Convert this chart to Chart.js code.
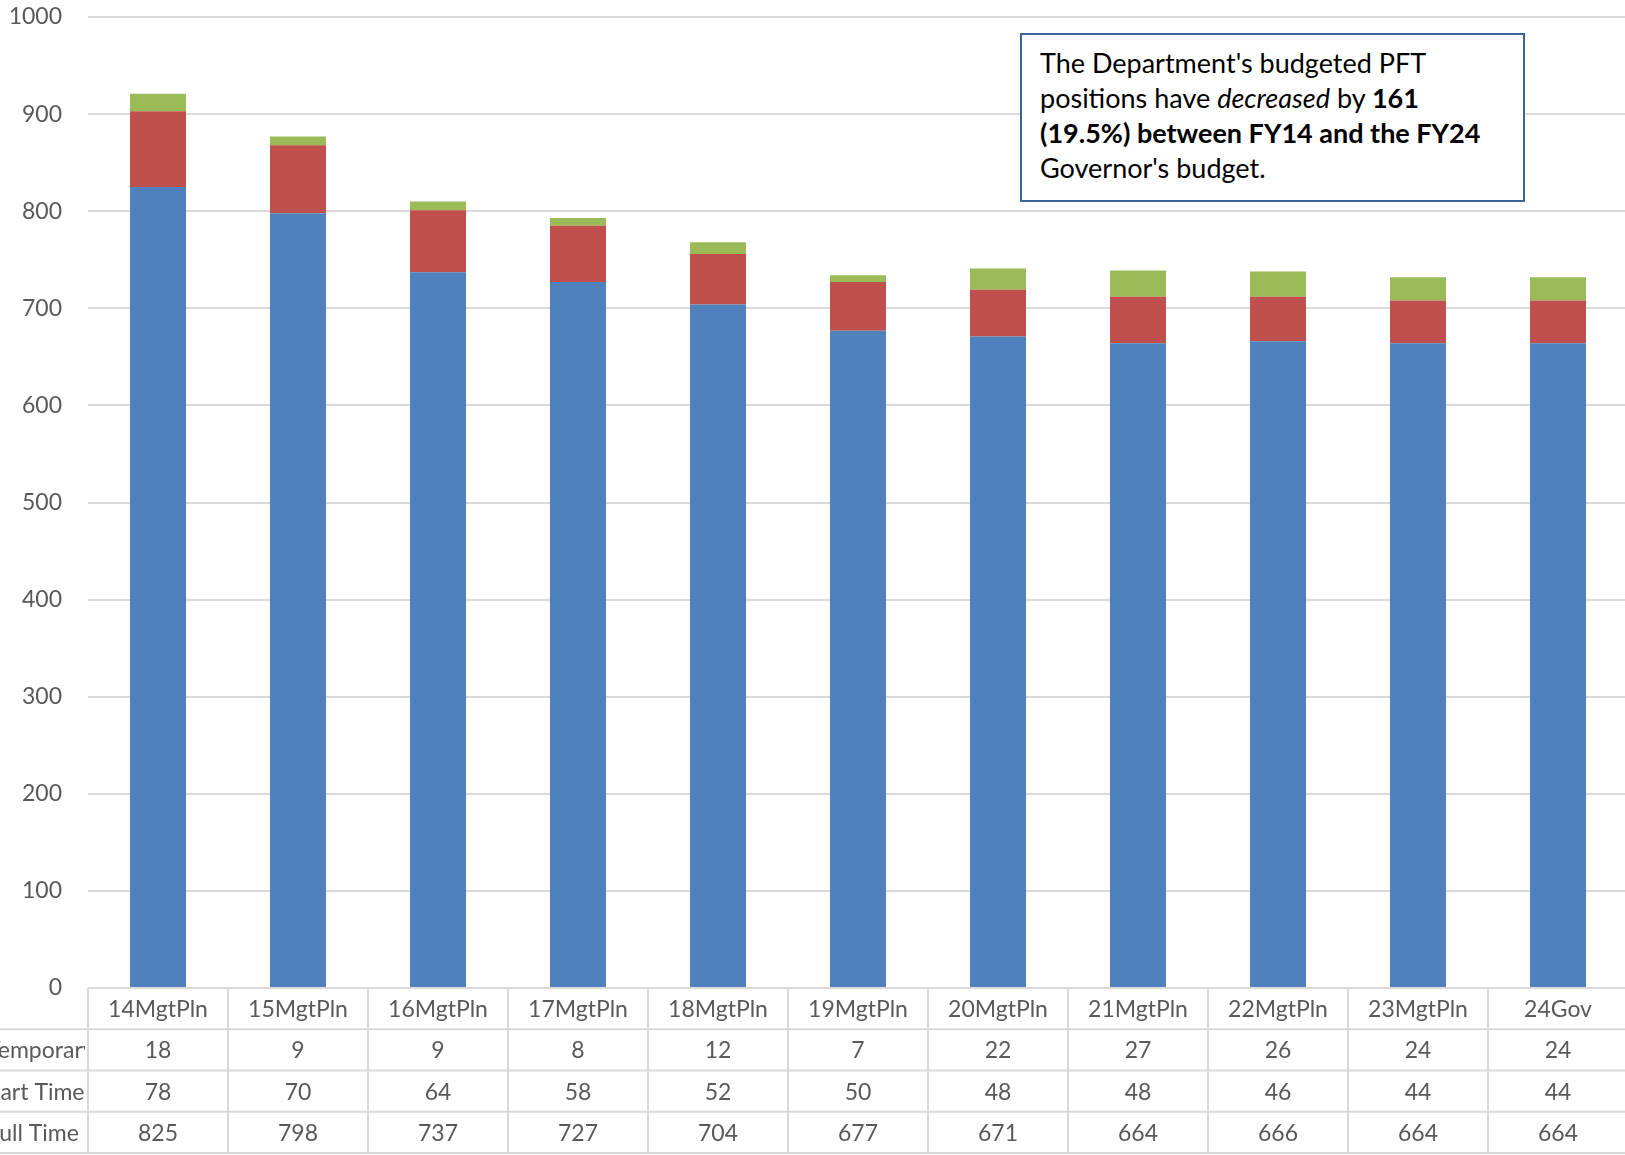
<!DOCTYPE html>
<html>
<head>
<meta charset="utf-8">
<script src="https://cdn.jsdelivr.net/npm/chart.js@4.4.0/dist/chart.umd.min.js"></script>
<style>
  html, body { margin: 0; padding: 0; overflow: hidden; background: #fff; }
  #caixa { position: relative; width: 1640px; height: 1155px; }
  #nota {
    position: absolute; left: 1020px; top: 33px; width: 505px; height: 169px;
    box-sizing: border-box; border: 2px solid #3D6499; background: #fff;
    font-family: Lato, sans-serif; font-size: 27px; line-height: 35px; color: #000;
    padding: 10px 18px; white-space: nowrap;
  }
</style>
</head>
<body>
<div id="caixa">
  <canvas id="grafico" width="1640" height="1155"></canvas>
  <div id="nota">The Department's budgeted PFT<br>positions have <i>decreased</i> by <b>161</b><br><b>(19.5%) between FY14 and the FY24</b><br>Governor's budget.</div>
</div>
<script>
const categorias = ['14MgtPln', '15MgtPln', '16MgtPln', '17MgtPln', '18MgtPln', '19MgtPln', '20MgtPln', '21MgtPln', '22MgtPln', '23MgtPln', '24Gov'];
const fullTime   = [825, 798, 737, 727, 704, 677, 671, 664, 666, 664, 664];
const partTime   = [78, 70, 64, 58, 52, 50, 48, 48, 46, 44, 44];
const temporario = [18, 9, 9, 8, 12, 7, 22, 27, 26, 24, 24];

const corTexto = '#595959';
const corGrade = '#D9D9D9';
const fonte = 'Lato, sans-serif';

// tabela de dados embaixo do grafico (igual ao Excel)
const tabelaDados = {
  id: 'tabelaDados',
  afterDraw(chart) {
    const ctx = chart.ctx;
    const area = chart.chartArea;
    const larg = (area.right - area.left) / categorias.length;
    const linhas = [
      { rotulo: null, valores: categorias },
      { rotulo: 'Temporary', valores: temporario },
      { rotulo: 'Part Time', valores: partTime },
      { rotulo: 'Full Time', valores: fullTime }
    ];
    const topo = area.bottom;
    const altLinha = 41.25;

    ctx.save();
    ctx.strokeStyle = corGrade;
    ctx.lineWidth = 2;
    ctx.beginPath();
    ctx.moveTo(area.left, topo);
    ctx.lineTo(area.right, topo);
    for (let i = 1; i <= linhas.length; i++) {
      const y = topo + i * altLinha;
      ctx.moveTo(0, y);
      ctx.lineTo(area.right, y);
    }
    for (let j = 0; j <= categorias.length; j++) {
      const x = area.left + j * larg;
      ctx.moveTo(x, topo);
      ctx.lineTo(x, topo + linhas.length * altLinha);
    }
    ctx.stroke();

    ctx.fillStyle = corTexto;
    ctx.font = '23px ' + fonte;
    ctx.textBaseline = 'middle';
    linhas.forEach((linha, i) => {
      const yMeio = topo + i * altLinha + altLinha / 2 + 1;
      ctx.textAlign = 'center';
      linha.valores.forEach((v, j) => {
        ctx.fillText(String(v), chart.scales.x.getPixelForValue(j), yMeio);
      });
      if (linha.rotulo) {
        ctx.save();
        ctx.beginPath();
        ctx.rect(0, topo, area.left - 3, 200);
        ctx.clip();
        ctx.textAlign = 'left';
        ctx.fillText(linha.rotulo, -13, yMeio);
        ctx.restore();
      }
    });
    ctx.restore();
  }
};

const grafico = new Chart(document.getElementById('grafico'), {
  type: 'bar',
  data: {
    labels: categorias,
    datasets: [
      { label: 'Full Time', data: fullTime, backgroundColor: '#4F81BD' },
      { label: 'Part Time', data: partTime, backgroundColor: '#C0504D' },
      { label: 'Temporary', data: temporario, backgroundColor: '#9BBB59' }
    ]
  },
  options: {
    responsive: false,
    animation: false,
    devicePixelRatio: 1,
    layout: { padding: { top: 17, bottom: 167, right: 12, left: 0 } },
    datasets: { bar: { categoryPercentage: 1, barPercentage: 0.4 } },
    plugins: { legend: { display: false }, tooltip: { enabled: false } },
    scales: {
      x: { stacked: true, display: false },
      y: {
        stacked: true,
        min: 0,
        max: 1000,
        ticks: {
          stepSize: 100, color: corTexto, font: { family: fonte, size: 23 }, padding: 26,
          callback: (v) => String(v)
        },
        grid: { color: corGrade, lineWidth: 2, drawTicks: false },
        border: { display: false },
        afterFit(escala) {
          escala.width = 88;
          escala.paddingTop = 0;
          escala.paddingBottom = 0;
        }
      }
    }
  },
  plugins: [tabelaDados]
});
</script>
</body>
</html>
